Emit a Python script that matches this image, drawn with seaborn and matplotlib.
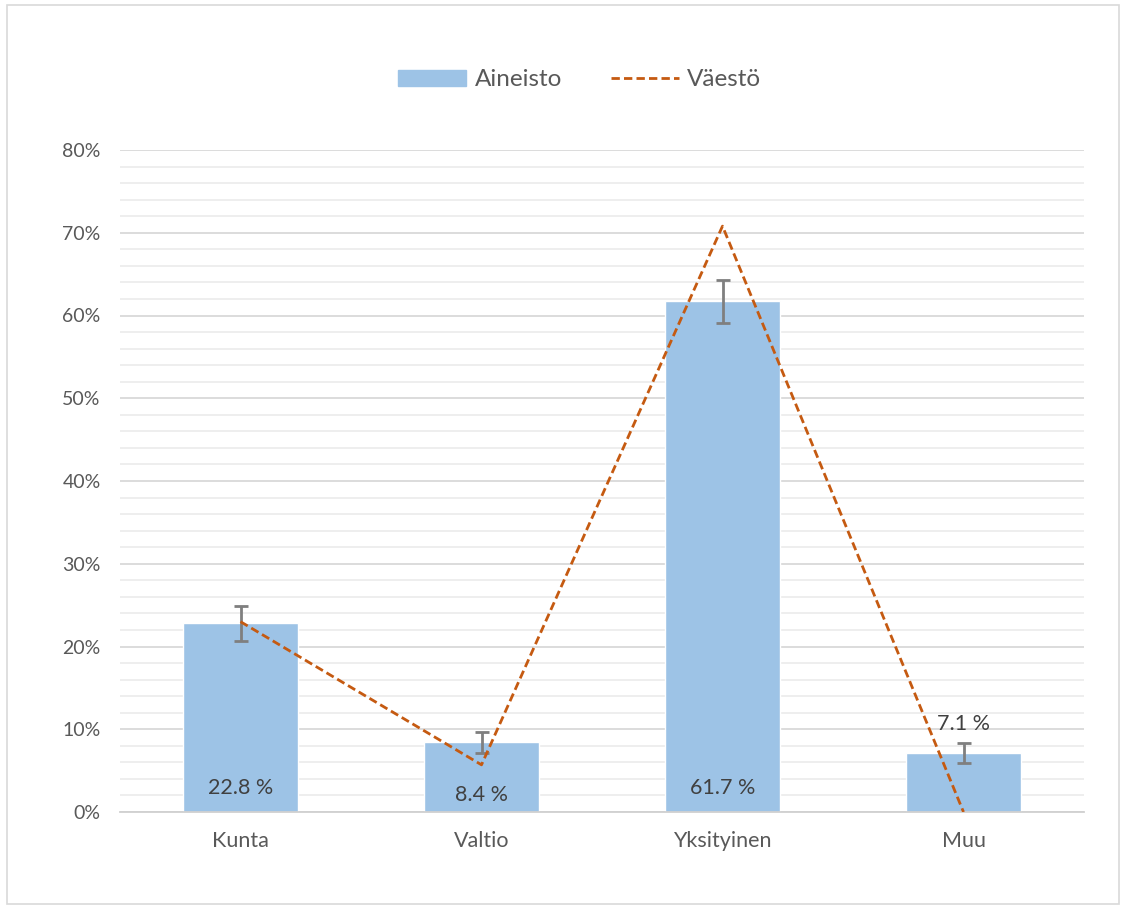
import pandas as pd
import matplotlib.pyplot as plt
import seaborn as sns
from matplotlib.patches import Rectangle, Patch
from matplotlib.lines import Line2D
from matplotlib.ticker import MultipleLocator, FuncFormatter

# values
categories = ["Kunta", "Valtio", "Yksityinen", "Muu"]
aineisto = [22.8, 8.4, 61.7, 7.1]
virhe = [2.1, 1.3, 2.6, 1.2]
vaesto = [23.0, 5.7, 70.8, 0.0]
label_texts = ["22.8 %", "8.4 %", "61.7 %", "7.1 %"]
label_y = [2.9, 2.0, 2.9, 10.6]

BAR = "#9DC3E6"
LINE = "#C55A11"
TXT = "#595959"

sns.set_style("white")
plt.rcParams["font.family"] = ["Lato", "DejaVu Sans"]

df = pd.DataFrame({"Sektori": categories, "Osuus": aineisto})

fig = plt.figure(figsize=(11.28, 9.07), dpi=100)
ax = fig.add_axes([120 / 1128, 1 - 812 / 907, 964 / 1128, 662 / 907])

sns.barplot(data=df, x="Sektori", y="Osuus", color=BAR, width=0.48,
            saturation=1, errorbar=None, ax=ax, zorder=2)
xs = range(len(categories))
ax.errorbar(xs, aineisto, yerr=virhe, fmt="none", ecolor="#7F7F7F",
            elinewidth=2, capsize=5, capthick=2, zorder=4)
ax.plot(xs, vaesto, color=LINE, lw=2, linestyle=(0, (3, 1.5)), zorder=5)

for x, y, t in zip(xs, label_y, label_texts):
    ax.text(x, y, t, ha="center", va="center", fontsize=15.5, color="#404040", zorder=6)

# axes, grid
ax.set_xlim(-0.5, len(categories) - 0.5)
ax.set_ylim(0, 80)
ax.yaxis.set_major_locator(MultipleLocator(10))
ax.yaxis.set_minor_locator(MultipleLocator(2))
ax.yaxis.set_major_formatter(FuncFormatter(lambda v, p: f"{v:.0f}%"))
ax.grid(axis="y", which="major", color="#D9D9D9", lw=1.3, zorder=0)
ax.grid(axis="y", which="minor", color="#EDEDED", lw=1.3, zorder=0)
ax.set_axisbelow(True)
for s in ["top", "right", "left"]:
    ax.spines[s].set_visible(False)
ax.spines["bottom"].set_color("#D0D0D0")
ax.spines["bottom"].set_linewidth(1.3)
ax.set_xlabel("")
ax.set_ylabel("")
ax.tick_params(axis="y", which="both", length=0, labelsize=14, labelcolor=TXT, pad=14)
ax.tick_params(axis="x", length=0, labelsize=15.5, labelcolor=TXT, pad=14)
# category separator ticks
ax.set_xticks([i + 0.5 for i in range(-1, len(categories))], minor=True)
ax.tick_params(axis="x", which="minor", length=7, color="#D0D0D0", width=1.3)

handles = [Patch(color=BAR), Line2D([0], [0], color=LINE, lw=2, linestyle=(0, (3, 1.5)))]
leg = fig.legend(handles, ["Aineisto", "Väestö"], loc="center", ncol=2, frameon=False,
                 bbox_to_anchor=(0.514, 1 - 80 / 907), fontsize=17.5, handlelength=2.8,
                 handleheight=0.65, columnspacing=2.0, handletextpad=0.35)
for t in leg.get_texts():
    t.set_color(TXT)

fig.patches.append(Rectangle((7 / 1128, 3 / 907), 1112 / 1128, 899 / 907,
                             transform=fig.transFigure, fill=False,
                             edgecolor="#D9D9D9", lw=1.2))

fig.savefig("out.png", dpi=100)
